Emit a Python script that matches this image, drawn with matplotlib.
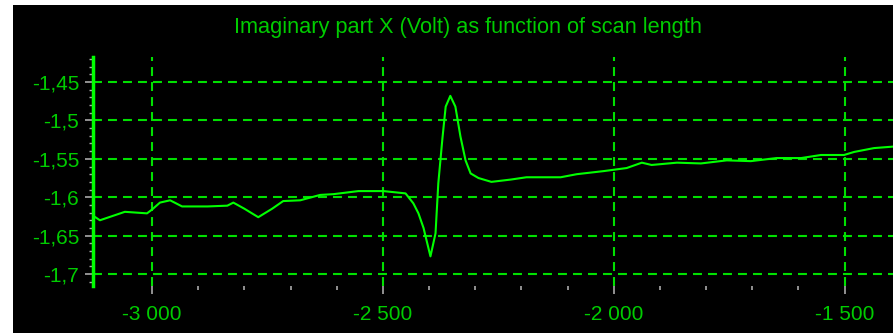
import matplotlib.pyplot as plt
from matplotlib.patches import Rectangle
from matplotlib.ticker import MultipleLocator, FixedLocator, FuncFormatter

# scan length vs imaginary part X (Volt)
scan = [-3128, -3113, -3059, -3011, -3000, -2983, -2961, -2935, -2880, -2837,
        -2824, -2800, -2770, -2740, -2716, -2679, -2636, -2607, -2553, -2499,
        -2451, -2434, -2423, -2412, -2397, -2386, -2380, -2371, -2364, -2354,
        -2343, -2332, -2321, -2310, -2293, -2265, -2223, -2189, -2115, -2080,
        -2022, -1972, -1939, -1918, -1863, -1811, -1755, -1703, -1647, -1594,
        -1551, -1501, -1479, -1436, -1393]
volt = [-1.624, -1.630, -1.619, -1.621, -1.616, -1.607, -1.604, -1.612, -1.612, -1.611,
        -1.607, -1.615, -1.626, -1.615, -1.605, -1.604, -1.597, -1.596, -1.592, -1.592,
        -1.595, -1.608, -1.621, -1.640, -1.677, -1.647, -1.582, -1.523, -1.482, -1.468,
        -1.482, -1.521, -1.552, -1.569, -1.575, -1.580, -1.577, -1.574, -1.574, -1.570,
        -1.566, -1.562, -1.555, -1.558, -1.555, -1.556, -1.552, -1.553, -1.549, -1.549,
        -1.545, -1.545, -1.541, -1.536, -1.534]
x_minor = [-2900, -2800, -2700, -2600, -2400, -2300, -2200, -2100,
           -1900, -1800, -1700, -1600]

green = '#00ff00'
text_green = '#00cc00'
grid_green = '#00e000'

fig = plt.figure(figsize=(8.93, 3.33), dpi=100, facecolor='white')
fig.patches.append(Rectangle((13 / 893, 0), 1, 328 / 333, transform=fig.transFigure,
                             facecolor='black', edgecolor='none', zorder=-10))

ax = fig.add_axes([93 / 893, 47 / 333, 800 / 893, 229 / 333])
ax.set_facecolor('black')
ax.plot(scan, volt, color=green, lw=1.5)

ax.set_xlim(-3128, -1395)
ax.set_ylim(-1.7156, -1.4174)

ax.xaxis.set_major_locator(MultipleLocator(500))
ax.xaxis.set_minor_locator(FixedLocator(x_minor))
ax.yaxis.set_major_locator(MultipleLocator(0.05))
ax.yaxis.set_minor_locator(MultipleLocator(0.01))
ax.xaxis.set_major_formatter(FuncFormatter(lambda v, p: f'{v:,.0f}'.replace(',', ' ')))
ax.yaxis.set_major_formatter(FuncFormatter(lambda v, p: f'{v:.2f}'.rstrip('0').replace('.', ',')))

for s in ['top', 'right', 'bottom']:
    ax.spines[s].set_visible(False)
ax.spines['left'].set_color(green)
ax.spines['left'].set_linewidth(2.5)

ax.tick_params(axis='x', which='major', colors='#aaaaaa', length=6, width=1.2, pad=8,
               labelcolor=text_green, labelsize=15)
ax.tick_params(axis='x', which='minor', colors='#aaaaaa', length=3, width=1.2)
ax.tick_params(axis='y', which='major', colors='#aaaaaa', length=6, width=1.2, pad=4,
               labelcolor=text_green, labelsize=15)
ax.tick_params(axis='y', which='minor', colors='#aaaaaa', length=3, width=1)
for lab in ax.get_xticklabels() + ax.get_yticklabels():
    lab.set_family('Liberation Sans')

ax.grid(True, which='major', color=grid_green, linestyle=(0, (4.3, 2.9)), linewidth=1.5)

fig.text(468 / 893, 1 - 28 / 333, 'Imaginary part X (Volt) as function of scan length',
         color=text_green, fontsize=15.7, family='Liberation Sans', ha='center', va='center')

plt.savefig('out.png', dpi=100, facecolor='white')
